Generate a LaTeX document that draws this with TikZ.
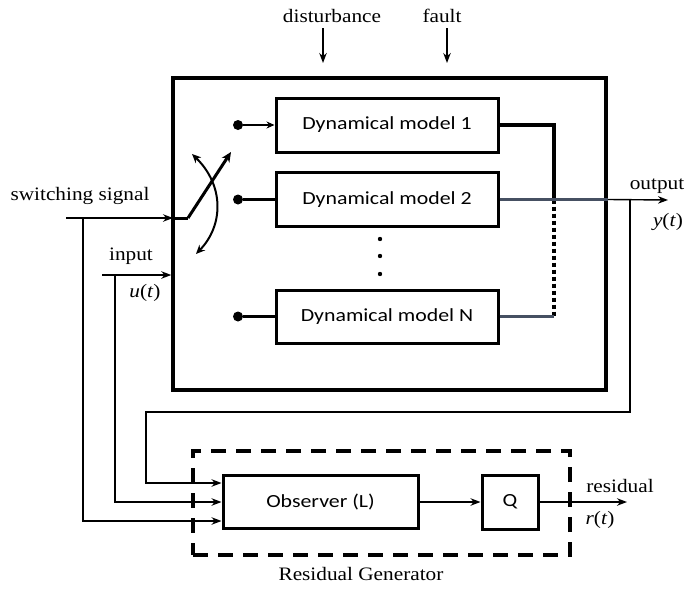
\documentclass[tikz,border=0pt]{standalone}
\usepackage{fontspec}
\setmainfont[FakeStretch=1.12]{Liberation Serif}
\newfontfamily\boxfont[FakeStretch=1.18]{Carlito}
\usetikzlibrary{arrows.meta,calc}

\begin{document}
\begin{tikzpicture}[x=1pt,y=-1pt,
  lbl/.style={inner sep=0pt, font=\fontsize{19}{22}\selectfont},
  blk/.style={draw, line width=3pt, inner sep=0pt,
              font=\boxfont\fontsize{18.5}{22}\selectfont},
  sig/.style={line width=1.4pt, -{Stealth[length=10pt,width=7.5pt]}},
  thick line/.style={line width=3pt},
  dot/.style={circle, fill, inner sep=0pt, minimum size=10pt},
  gline/.style={line width=2.2pt, draw={rgb,255:red,70;green,80;blue,98}},
]
\useasboundingbox (0,0) rectangle (691,597);

% plant with its switched models
\node[draw, line width=3.5pt, minimum width=433pt, minimum height=312pt] (plant) at (389.5,234) {};
\node[blk, minimum width=222pt, minimum height=54pt] (m1) at (387,125) {Dynamical model 1};
\node[blk, minimum width=222pt, minimum height=54pt] (m2) at (387,199.5) {Dynamical model 2};
\node[blk, minimum width=222pt, minimum height=53pt] (mN) at (387,316.5) {Dynamical model N};

\foreach \yy in {239,256,274} \fill (380,\yy) circle (2.2pt);

% switch contacts
\node[dot] (b1) at (238,125) {};
\node[dot] (b2) at (238,199.5) {};
\node[dot] (bN) at (238,316.5) {};
\draw[line width=1.8pt, -{Stealth[length=8pt,width=7pt]}] (b1) -- (m1);
\draw[thick line] (b2) -- (m2);
\draw[thick line] (bN) -- (mN);

% switch arm and selector
\coordinate (sw0) at (173,218);
\coordinate (sw1) at (188,218);
\coordinate (sw2) at (231,152);
\draw[thick line] (sw0) -- (sw1);
\draw[thick line, -{Stealth[length=10pt,width=9pt]}] (sw1) -- (sw2);
\coordinate (ca) at (192,154);
\coordinate (cb) at (196,254);
\draw[line width=2pt, {Stealth[length=9pt,width=8pt]}-{Stealth[length=9pt,width=8pt]}]
  (ca) .. controls (224,185) and (224,225) .. (cb);

% model outputs
\coordinate (bus2) at (554,199.5);
\coordinate (busN) at (554,316.5);
\draw[line width=3.3pt] (m1) -| (bus2);
\draw[line width=4pt, dash pattern=on 4pt off 3pt] (bus2) -- (busN);
\draw[gline] (m2) -- (plant.east |- m2);
\draw[gline] (mN) -- (busN);

% exogenous inputs
\node[lbl] (dist) at (332,16) {disturbance};
\node[lbl] (flt) at (442,16) {fault};
\coordinate (d0) at (323,28);
\coordinate (d1) at (323,63);
\coordinate (f0) at (447,28);
\coordinate (f1) at (447,63);
\draw[sig] (d0) -- (d1);
\draw[sig] (f0) -- (f1);

% switching signal and input
\node[lbl] (sslbl) at (80,196) {switching signal};
\coordinate (ss) at (66,218);
\coordinate (ssj) at (83,218);
\draw[sig] (ss) -- (sw0);
\node[lbl] (inlbl) at (131,256) {input};
\node[lbl] (ulbl) at (145,293) {\textit{u}(\textit{t})};
\coordinate (in) at (102,275);
\coordinate (inj) at (115,275);
\draw[sig] (in) -- (plant.west |- in);

% output
\node[lbl] (outlbl) at (657,186) {output};
\node[lbl] (ylbl) at (668,222) {\textit{y}(\textit{t})};
\coordinate (yout) at (668,200);
\coordinate (fb) at (630,200);
\draw[sig] (plant.east |- m2) -- (yout);

% residual generator
\node[draw, line width=4pt, dash pattern=on 15pt off 10pt,
      minimum width=377pt, minimum height=104pt] (rg) at (381.5,503) {};
\node[lbl] (rglbl) at (361,574) {Residual Generator};
\node[blk, minimum width=195pt, minimum height=53pt] (obs) at (320.5,502) {Observer (L)};
\node[blk, minimum width=56pt, minimum height=54pt] (Q) at (510,502) {Q};
\draw[sig] (obs) -- (Q);
\coordinate (rout) at (627,502);
\draw[sig] (Q) -- (rout);
\node[lbl] (reslbl) at (620,486) {residual};
\node[lbl] (rlbl) at (600,520) {\textit{r}(\textit{t})};

% feedback of y, u and the switching signal to the observer
\draw[sig] (fb) |- (146,412) |- ($(obs.west)+(0,-19)$);
\draw[sig] (inj) |- (obs.west);
\draw[sig] (ssj) |- ($(obs.west)+(0,19)$);
\end{tikzpicture}
\end{document}
